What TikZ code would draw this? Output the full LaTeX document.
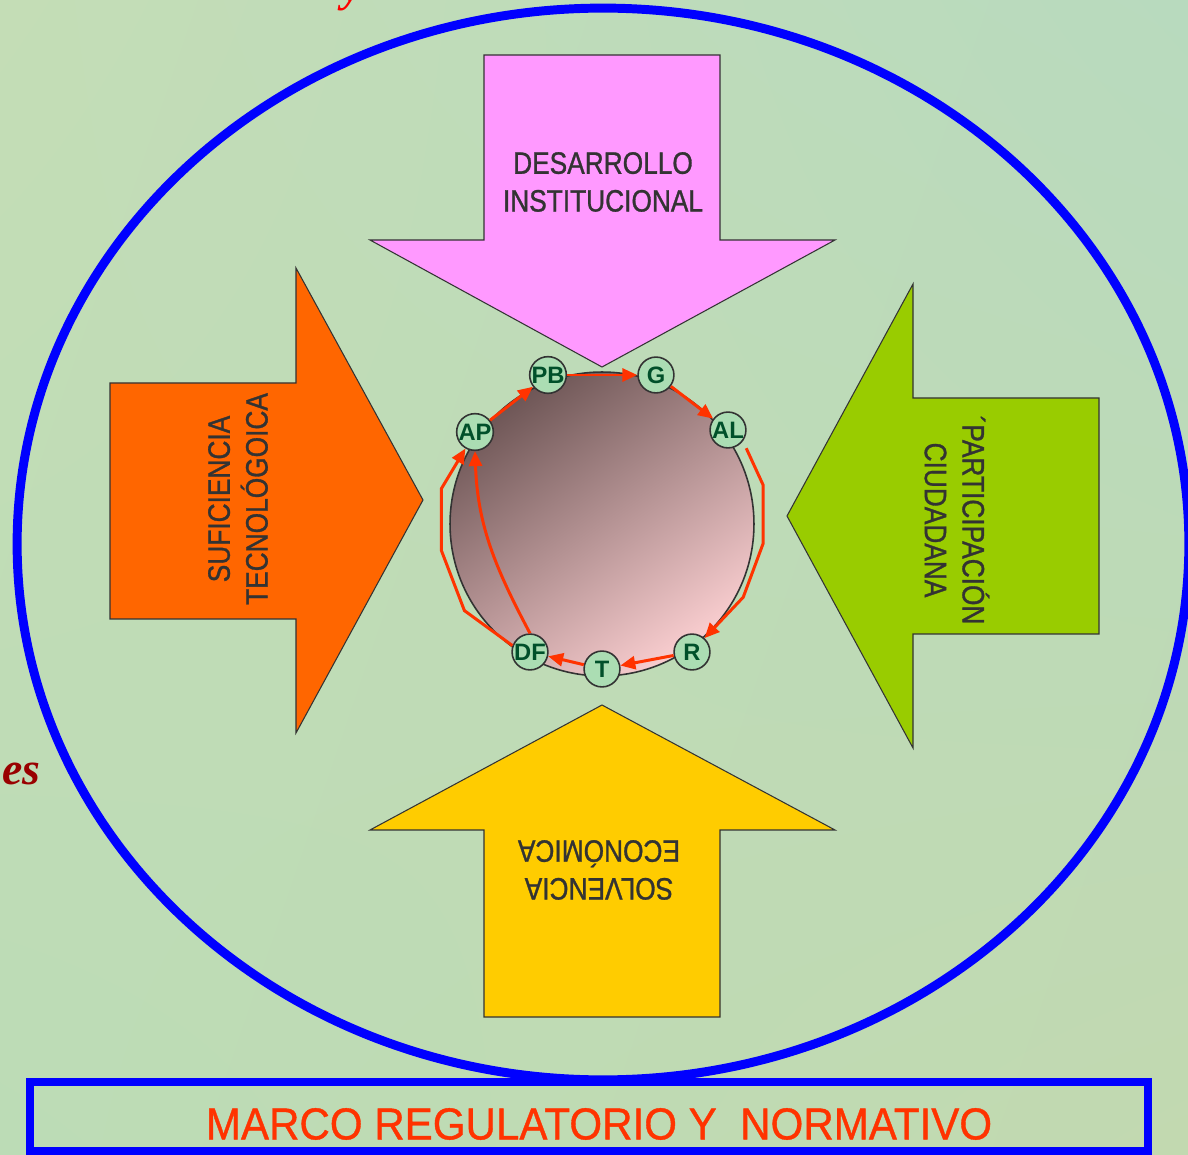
\documentclass[tikz,border=0pt]{standalone}
\usepackage{fontspec}
\setmainfont{Liberation Sans}
\newfontfamily\narrowsf{Liberation Sans}[FakeStretch=0.85,FakeBold=1]
\newfontfamily\marcosf{Liberation Sans}[FakeStretch=0.94,FakeBold=0.8]
\newfontfamily\titlerm{Liberation Serif}
\usetikzlibrary{arrows.meta,shadings}
\definecolor{pinkarr}{HTML}{FF99FF}
\definecolor{orangearr}{HTML}{FF6600}
\definecolor{greenarr}{HTML}{99CC00}
\definecolor{yellowarr}{HTML}{FFCC00}
\definecolor{flowred}{HTML}{FF3300}
\definecolor{stnfill}{HTML}{ABDDB3}
\definecolor{stntext}{HTML}{00502A}
\definecolor{rimblue}{HTML}{0000FF}
\definecolor{esred}{HTML}{990000}
\definecolor{bgul}{HTML}{C4DDB6}
\definecolor{bgur}{HTML}{B8DABE}
\definecolor{bgll}{HTML}{BCDCB6}
\definecolor{bglr}{HTML}{C2D9B0}
\definecolor{discdark}{HTML}{6E5656}
\definecolor{discmid}{HTML}{A27E7F}
\definecolor{disclight}{HTML}{FACED0}

\begin{document}
\begin{tikzpicture}[x=0.02cm,y=-0.02cm,
    rim/.style={draw=black!80,line width=0.6pt},
    lbl/.style={text=black!80,align=center,font={\narrowsf\fontsize{17.6}{21.5}\selectfont}},
    stn/.style={circle,draw=black!80,line width=0.9pt,fill=stnfill,minimum size=20.4pt,
      inner sep=0pt,text=stntext,font={\bfseries\fontsize{13.5}{13.5}\selectfont}},
    flow/.style={draw=flowred,line width=1.7pt,line join=miter,-{Triangle[length=8.5pt,width=7.4pt]}},
  ]
  \useasboundingbox (0,0) rectangle (1188,1155);
  \clip (0,0) rectangle (1188,1155);
  \shade[upper left=bgul,upper right=bgur,lower left=bgll,lower right=bglr] (0,0) rectangle (1188,1155);

  \node[anchor=base,text=red,font={\titlerm\bfseries\itshape\fontsize{25}{25}\selectfont}] (yy) at (352,2) {y};
  \node[anchor=base west,inner sep=0pt,text=esred,font={\titlerm\bfseries\itshape\fontsize{26}{26}\selectfont}] (es) at (2,785) {es};

  \draw[rimblue,line width=5.1pt] (603,544) ellipse [x radius=11.72cm,y radius=10.72cm];

  \draw[rim,fill=pinkarr] (484,55) -- (720,55) -- (720,240) -- (835,240) -- (602,367) -- (370,240) -- (484,240) -- cycle;
  \draw[rim,fill=orangearr] (110,383) -- (296,383) -- (296,268) -- (423,500) -- (296,733) -- (296,619) -- (110,619) -- cycle;
  \draw[rim,fill=greenarr] (1099,398) -- (913,398) -- (913,284) -- (787,516) -- (913,748) -- (913,634) -- (1099,634) -- cycle;
  \draw[rim,fill=yellowarr] (484,1017) -- (720,1017) -- (720,830) -- (835,830) -- (602,705) -- (370,830) -- (484,830) -- cycle;

  \node[lbl] (desarrollo) at (603,182) {DESARROLLO\\INSTITUCIONAL};
  \node[lbl,rotate=90] (suficiencia) at (238,499) {SUFICIENCIA\\TECNOLÓGOICA};
  \node[lbl,rotate=-90] (participacion) at (957,520) {´PARTICIPACIÓN\\CIUDADANA};
  \node[lbl,rotate=180] (solvencia) at (599,870) {SOLVENCIA\\ECONÓMICA};

  \shade[top color=discdark,middle color=discmid,bottom color=disclight,shading angle=35]
    (602,524) circle [radius=3.04cm];
  \draw[black!80,line width=0.9pt] (602,524) circle [radius=3.04cm];

  \foreach \n/\x/\y in {PB/548/375,G/656/375,AL/728/430,R/692/652,T/602/669,DF/530/652,AP/475/432}
    \node[stn] (\n) at (\x,\y) {\n};

  \draw[flow] (PB) -- (G);
  \draw[flow] (G) -- (AL);
  \draw[flow] ([shift={(5,5)}]AL.-45) -- ++(17,37) -- ++(0,58) -- ++(-20,54) -- (R.48);
  \draw[flow] (R) -- (T);
  \draw[flow] (T) -- (DF);
  \draw[flow] (DF.160) -- ++(-48,-35) -- ++(-23,-60) -- ++(0,-62) -- (AP.-120);
  \draw[flow] (DF.north) to[out=118,in=-88] (AP.south);
  \draw[flow] (AP) -- (PB);

  \draw[rimblue,line width=4.5pt] (30,1082) rectangle (1148,1151);
  \node[text=flowred,font={\marcosf\fontsize{25.5}{25.5}\selectfont}] (marco) at (599,1124) {MARCO REGULATORIO Y~~NORMATIVO};
\end{tikzpicture}
\end{document}
